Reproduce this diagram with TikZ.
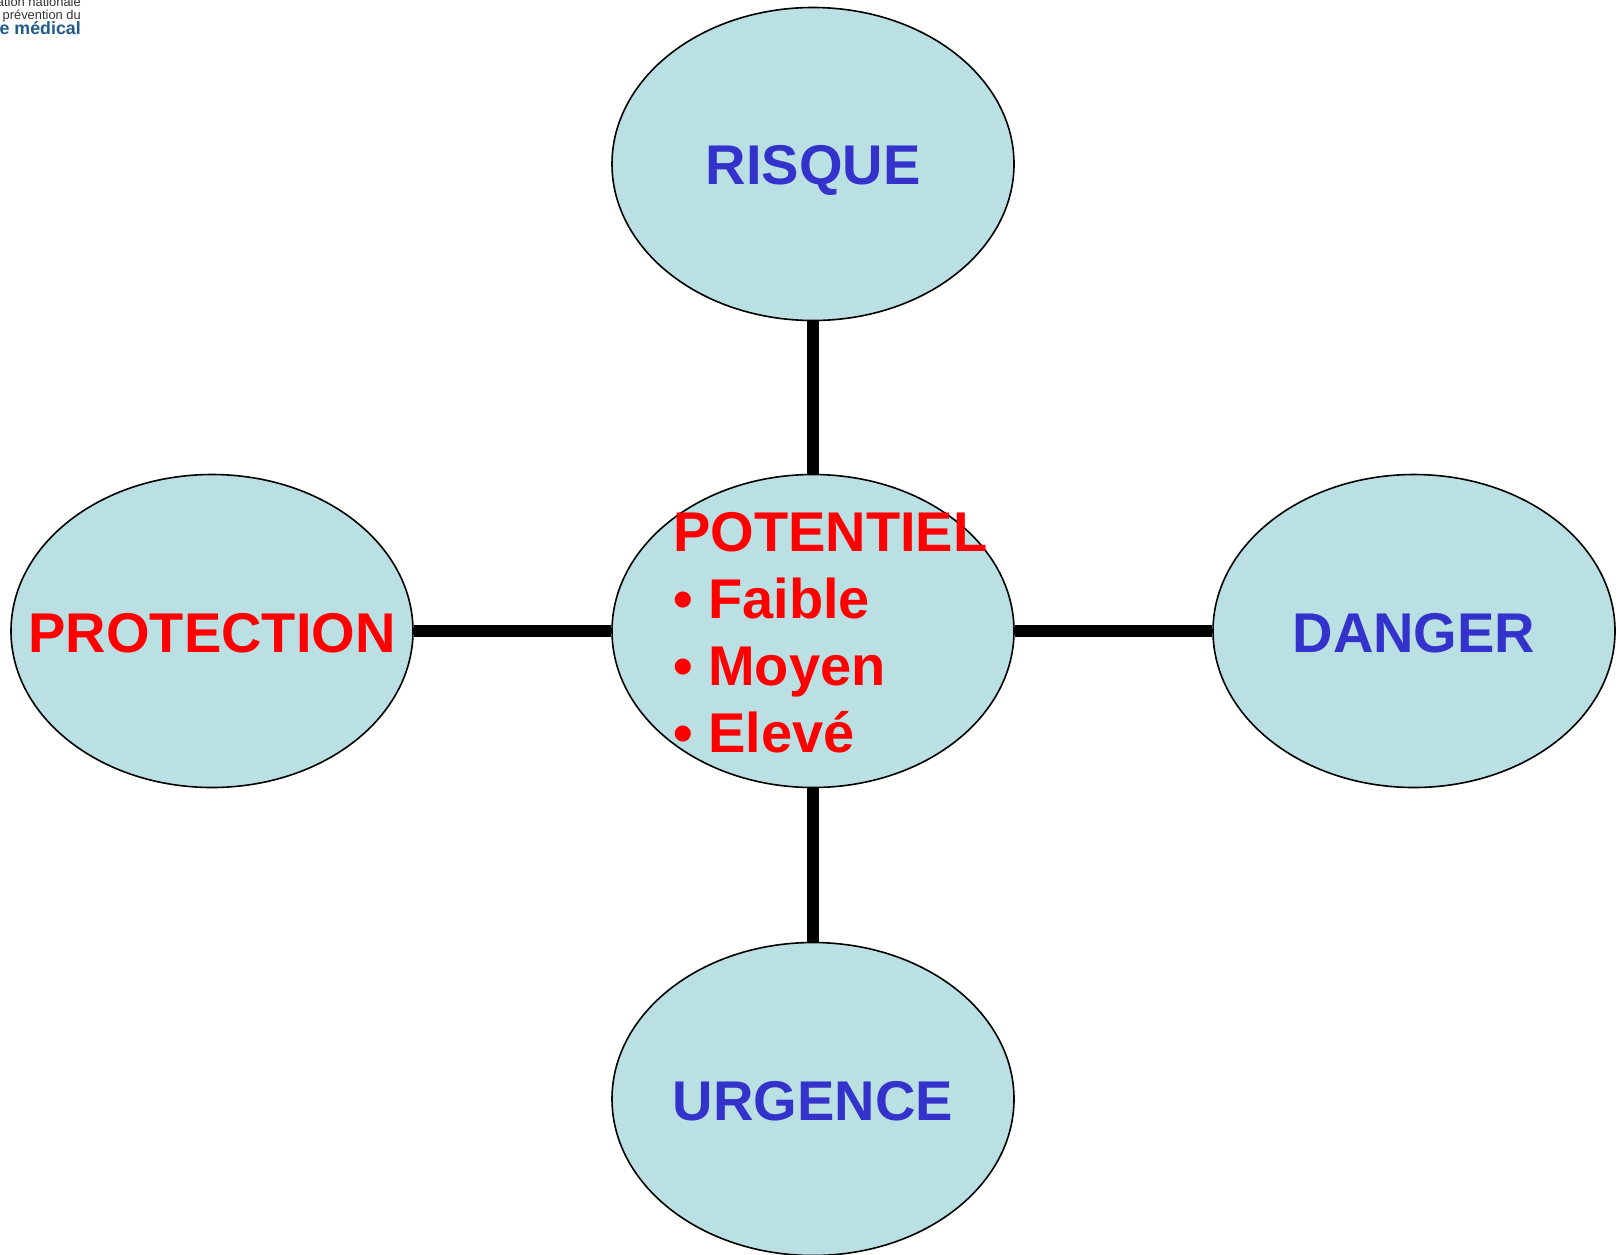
\documentclass[tikz,border=0pt]{standalone}
\usepackage{fontspec}
\setmainfont{Liberation Sans}
\usetikzlibrary{shapes.geometric}
\definecolor{ovalfill}{HTML}{BAE0E3}
\definecolor{ovalblue}{HTML}{3333CC}
\definecolor{logoblue}{HTML}{1F5C8C}
\definecolor{logogray}{HTML}{333333}
\tikzset{
  oval/.style={ellipse,draw=black,line width=1.6pt,fill=ovalfill,minimum width=402pt,minimum height=313pt,inner sep=0pt},
  link/.style={line width=12pt,draw=black},
  label/.style={inner sep=0pt,anchor=base,font=\fontsize{56}{67}\selectfont\bfseries},
  logotext/.style={inner sep=0pt,anchor=base east,font=\fontsize{12.9}{13}\selectfont,text=logogray}
}
\begin{document}
\begin{tikzpicture}[x=1pt,y=-1pt]
\useasboundingbox (0,0) rectangle (1622,1254);
\clip (0,0) rectangle (1622,1254);
\node[oval] (risque) at (813,164) {};
\node[oval] (urgence) at (813,1099) {};
\node[oval] (protection) at (212,631) {};
\node[oval] (danger) at (1414,631) {};
\node[oval] (centre) at (813,631) {};
\draw[link] (risque) -- (centre);
\draw[link] (centre) -- (urgence);
\draw[link] (protection) -- (centre);
\draw[link] (centre) -- (danger);
\node[label,text=ovalblue] (risquetxt) at (813,184) {RISQUE};
\node[label,text=ovalblue] (urgencetxt) at (813,1120) {URGENCE};
\node[label,text=red] (protectiontxt) at (212,652) {PROTECTION};
\node[label,text=ovalblue] (dangertxt) at (1414,652) {DANGER};
\node[anchor=north west,inner sep=0pt,align=left,text=red,font=\fontsize{56}{67}\selectfont\bfseries] (potentiel) at (673,512)
 {POTENTIEL\\\makebox[35pt][l]{•}Faible\\\makebox[35pt][l]{•}Moyen\\\makebox[35pt][l]{•}Elevé};
\node[logotext] (logoa) at (81,6) {ation nationale};
\node[logotext] (logob) at (81,19) {prévention du};
\node[logotext,text=logoblue,font=\fontsize{17.8}{18}\selectfont\bfseries] (logoc) at (81,34) {e médical};
\end{tikzpicture}
\end{document}
